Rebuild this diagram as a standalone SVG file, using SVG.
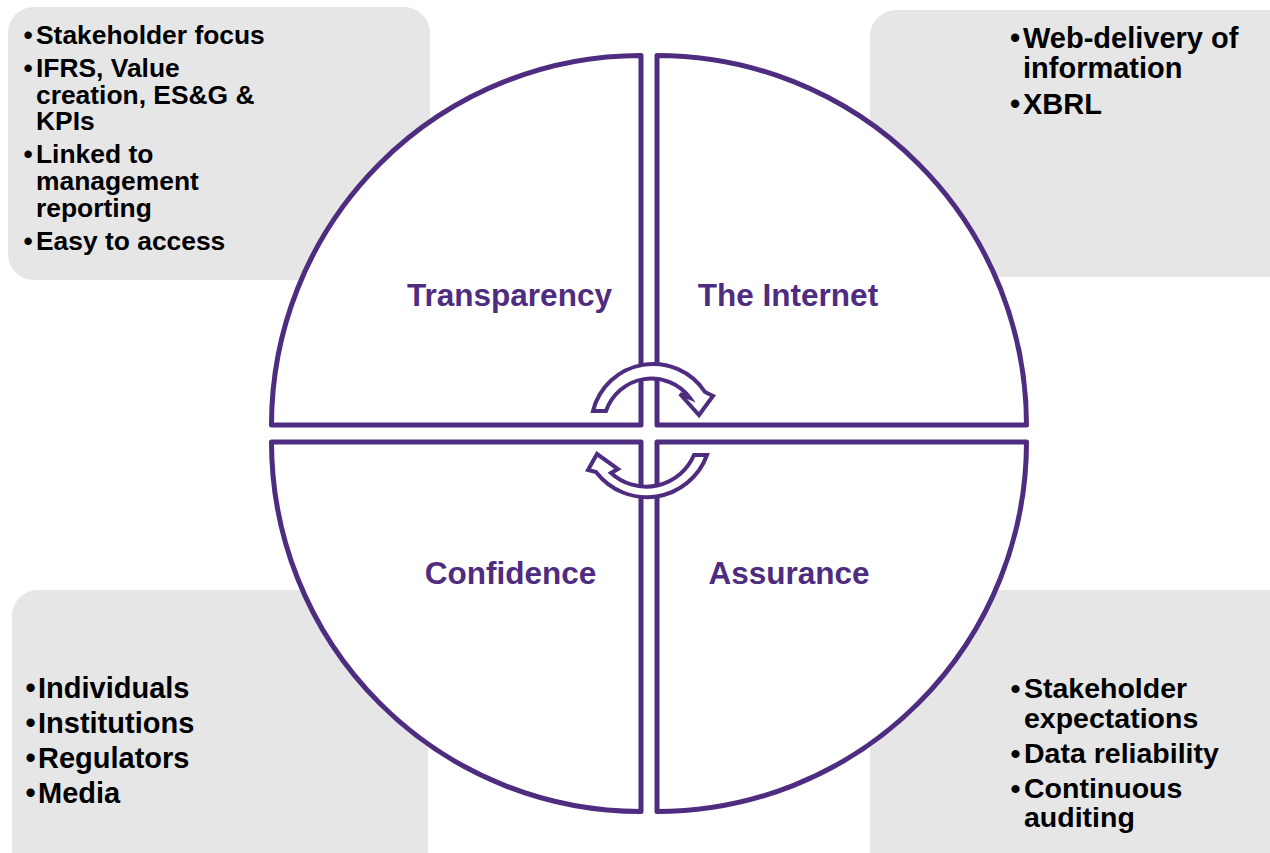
<svg xmlns="http://www.w3.org/2000/svg" width="1270" height="853" viewBox="0 0 1270 853">
  <style>
    .panel { fill: #E6E6E6; stroke: none; }
    .item { font-family: "Liberation Sans", Arial, sans-serif; font-weight: bold; fill: #000000; }
    .quad { fill: #FFFFFF; stroke: #4E2C80; stroke-width: 5; stroke-linejoin: round; }
    .label { font-family: "Liberation Sans", Arial, sans-serif; font-weight: bold; font-size: 31.5px; fill: #4E2C80; text-anchor: middle; }
    .cycle { fill: #FFFFFF; stroke: #4E2C80; stroke-width: 4; stroke-linejoin: miter; }
  </style>

  <rect width="1270" height="853" fill="#FFFFFF"/>

  <!-- Corner panels with bullet lists -->
  <g id="panel-transparency">
    <rect class="panel" x="8" y="7" width="422" height="273" rx="26"/>
    <g class="item" font-size="26.4">
      <text x="23.5" y="44">•<tspan x="36">Stakeholder focus</tspan></text>
      <text x="23.5" y="77">•<tspan x="36">IFRS, Value</tspan><tspan x="36" y="103.5">creation, ES&amp;G &amp;</tspan><tspan x="36" y="130">KPIs</tspan></text>
      <text x="23.5" y="163">•<tspan x="36">Linked to</tspan><tspan x="36" y="190">management</tspan><tspan x="36" y="216.5">reporting</tspan></text>
      <text x="23.5" y="249.5">•<tspan x="36">Easy to access</tspan></text>
    </g>
  </g>

  <g id="panel-internet">
    <rect class="panel" x="870" y="10" width="430" height="267" rx="26"/>
    <g class="item" font-size="29">
      <text x="1010" y="48">•<tspan x="1023">Web-delivery of</tspan><tspan x="1023" y="78">information</tspan></text>
      <text x="1010" y="114">•<tspan x="1023">XBRL</tspan></text>
    </g>
  </g>

  <g id="panel-confidence">
    <rect class="panel" x="12" y="590" width="416" height="290" rx="26"/>
    <g class="item" font-size="29">
      <text x="25.5" y="698">•<tspan x="38">Individuals</tspan></text>
      <text x="25.5" y="733">•<tspan x="38">Institutions</tspan></text>
      <text x="25.5" y="768">•<tspan x="38">Regulators</tspan></text>
      <text x="25.5" y="803">•<tspan x="38">Media</tspan></text>
    </g>
  </g>

  <g id="panel-assurance">
    <rect class="panel" x="870" y="590" width="430" height="290" rx="26"/>
    <g class="item" font-size="28.5">
      <text x="1010.5" y="698">•<tspan x="1024">Stakeholder</tspan><tspan x="1024" y="728">expectations</tspan></text>
      <text x="1010.5" y="763">•<tspan x="1024">Data reliability</tspan></text>
      <text x="1010.5" y="798">•<tspan x="1024">Continuous</tspan><tspan x="1024" y="827">auditing</tspan></text>
    </g>
  </g>

  <!-- Four quarter-circle segments -->
  <g id="quadrant-transparency">
    <path class="quad" d="M641,425 L641,55.5 A369.5,369.5 0 0 0 271.5,425 Z"/>
    <text class="label" x="509.5" y="306">Transparency</text>
  </g>
  <g id="quadrant-internet">
    <path class="quad" d="M657,425 L657,55.5 A369.5,369.5 0 0 1 1026.5,425 Z"/>
    <text class="label" x="788" y="306">The Internet</text>
  </g>
  <g id="quadrant-confidence">
    <path class="quad" d="M641,442 L271.5,442 A369.5,369.5 0 0 0 641,811.5 Z"/>
    <text class="label" x="510.5" y="584">Confidence</text>
  </g>
  <g id="quadrant-assurance">
    <path class="quad" d="M657,442 L1026.5,442 A369.5,369.5 0 0 1 657,811.5 Z"/>
    <text class="label" x="789" y="584">Assurance</text>
  </g>

  <!-- Cycle arrows in the centre -->
  <g id="connectors">
    <path class="cycle" d="M593,411 A62,62 0 0 1 705,392 L713,396 L699,415 L680,394 L690,398 A48,48 0 0 0 606,411 Z"/>
    <path class="cycle" d="M707,455 A64,64 0 0 1 596,472 L588,470 L597,454 L618,469 L611,473 A52,52 0 0 0 694,455 Z"/>
  </g>
</svg>
